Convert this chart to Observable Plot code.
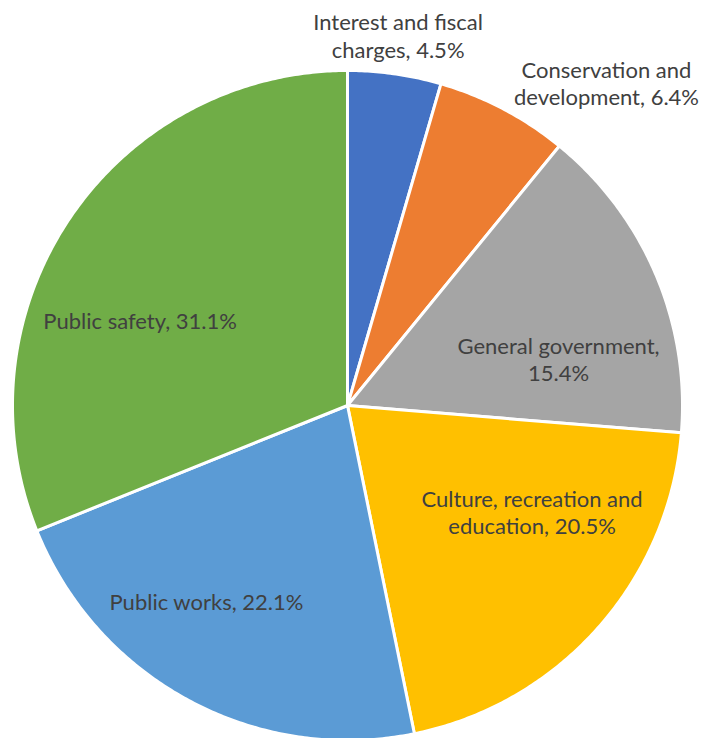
<!DOCTYPE html>
<html>
<head>
<meta charset="utf-8">
<script src="https://cdn.jsdelivr.net/npm/d3@7"></script>
<script src="https://cdn.jsdelivr.net/npm/@observablehq/plot@0.6"></script>
<style>
  html, body { margin: 0; padding: 0; background: #fff; }
  #chart svg { display: block; }
</style>
</head>
<body>
<div id="chart"></div>
<script>
// ---- data ----
const categories = [
  "Interest and fiscal charges",
  "Conservation and development",
  "General government",
  "Culture, recreation and education",
  "Public works",
  "Public safety"
];
const shares = [4.5, 6.4, 15.4, 20.5, 22.1, 31.1];
const labelText = [
  "Interest and fiscal\ncharges, 4.5%",
  "Conservation and\ndevelopment, 6.4%",
  "General government,\n15.4%",
  "Culture, recreation and\neducation, 20.5%",
  "Public works, 22.1%",
  "Public safety, 31.1%"
];
const colors = ["#4472C4", "#ED7D31", "#A5A5A5", "#FFC000", "#5B9BD5", "#70AD47"];

// ---- layout (unit-radius coordinates, y up) ----
const W = 701, H = 738, CX = 347, CY = 405, R = 335;
const labelAnchors = [
  [0.151, 1.105],
  [0.773, 0.963],
  [0.630, 0.140],
  [0.551, -0.316],
  [-0.421, -0.584],
  [-0.619, 0.255]
];

// ---- geometry from data ----
const total = d3.sum(shares);
const slices = [];
let acc = 0;
categories.forEach((c, i) => {
  const a0 = acc / total * 2 * Math.PI;
  acc += shares[i];
  const a1 = acc / total * 2 * Math.PI;
  const n = Math.max(2, Math.ceil((a1 - a0) / (Math.PI / 360)));
  slices.push({cat: c, x: 0, y: 0});
  for (let k = 0; k <= n; k++) {
    const a = a0 + (a1 - a0) * k / n;
    slices.push({cat: c, x: Math.sin(a), y: Math.cos(a)});
  }
  slices.push({cat: c, x: 0, y: 0});
});
const labels = categories.map((c, i) => ({
  cat: c, text: labelText[i], x: labelAnchors[i][0], y: labelAnchors[i][1]
}));

const chart = Plot.plot({
  width: W,
  height: H,
  margin: 0,
  style: {background: "#fff", overflow: "hidden"},
  x: {type: "linear", domain: [-CX / R, (W - CX) / R], range: [0, W], axis: null},
  y: {type: "linear", domain: [CY / R, (CY - H) / R], range: [0, H], axis: null},
  color: {domain: categories, range: colors},
  marks: [
    Plot.line(slices, {
      x: "x", y: "y", z: "cat", fill: "cat",
      stroke: "white", strokeWidth: 3, strokeLinejoin: "round", curve: "linear"
    }),
    Plot.text(labels, {
      x: "x", y: "y", text: "text",
      fontFamily: "Lato", fontSize: 22, fill: "#404040",
      lineAnchor: "middle", lineHeight: 1.23, textAnchor: "middle"
    })
  ]
});
document.getElementById("chart").appendChild(chart);
</script>
</body>
</html>
